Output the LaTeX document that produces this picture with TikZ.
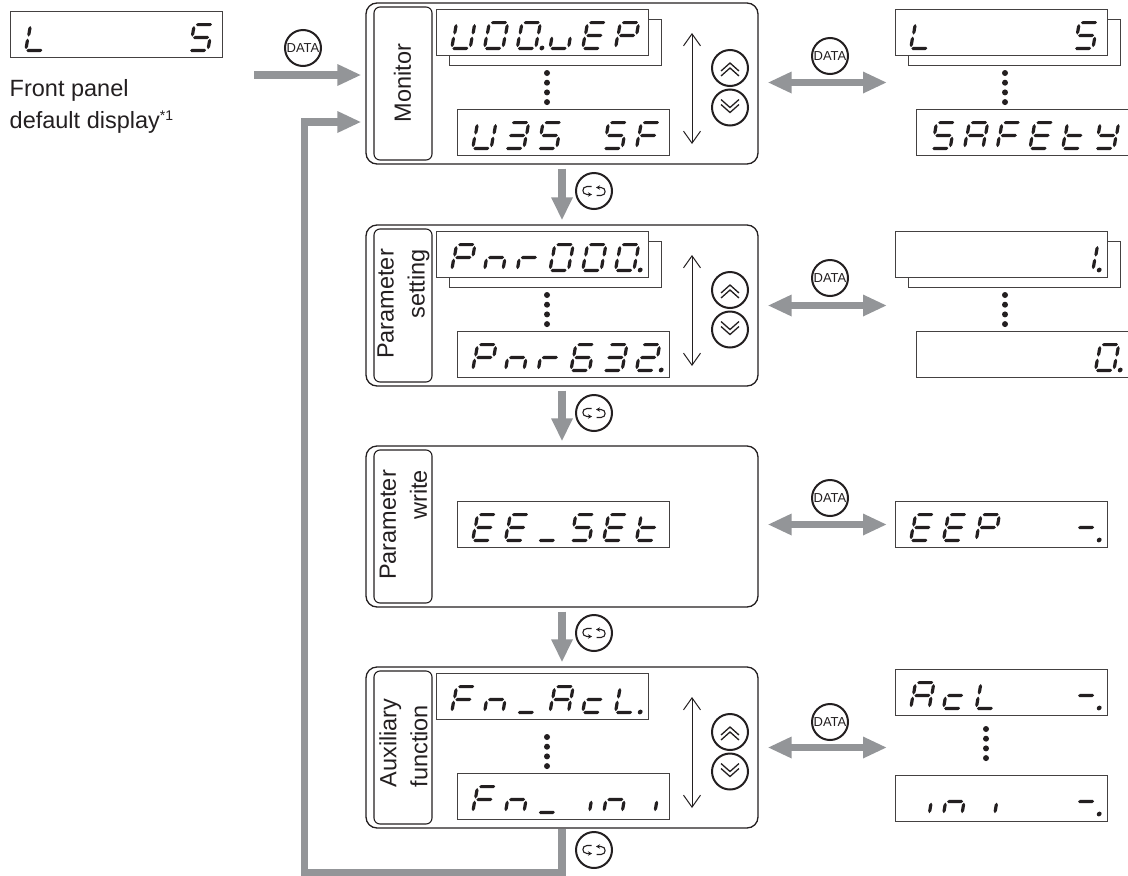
\documentclass[tikz,border=0pt]{standalone}
\usepackage{fontspec}
\setmainfont{Liberation Sans}
\usetikzlibrary{arrows.meta,calc}
\definecolor{segblack}{RGB}{35, 31, 32}
\definecolor{flowgray}{RGB}{147, 149, 152}

% one segment of a display digit, local units, y runs down
\newcommand{\hseg}[3]{\fill[segblack] (#1,#3) -- (#1+1.6,#3-1.6) -- (#2-1.6,#3-1.6) -- (#2,#3) -- (#2-1.6,#3+1.6) -- (#1+1.6,#3+1.6) -- cycle;}
\newcommand{\vseg}[3]{\fill[segblack] (#1,#2) -- (#1+1.6,#2+2.2) -- (#1+1.6,#3-2.2) -- (#1,#3) -- (#1-1.6,#3-2.2) -- (#1-1.6,#2+2.2) -- cycle;}
\newcommand{\sega}{\hseg{3.5}{19.5}{1.6}}
\newcommand{\segb}{\vseg{20.2}{3}{13.6}}
\newcommand{\segc}{\vseg{19.8}{15.6}{26.2}}
\newcommand{\segd}{\hseg{2}{18}{27.4}}
\newcommand{\sege}{\vseg{1.4}{15.6}{26.2}}
\newcommand{\segf}{\vseg{1.8}{3}{13.6}}
\newcommand{\segg}{\hseg{2.8}{18.8}{14.5}}
\newcommand{\segp}{\fill[segblack] (26,27) circle (2.4);}

% characters of the display
\newcommand{\defchar}[2]{\expandafter\def\csname chr#1\endcsname{#2}}
\defchar{*}{}
\defchar{0}{\sega\segb\segc\segd\sege\segf}
\defchar{0.}{\sega\segb\segc\segd\sege\segf\segp}
\defchar{1.}{\segb\segc\segp}
\defchar{2.}{\sega\segb\segg\sege\segd\segp}
\defchar{3}{\sega\segb\segg\segc\segd}
\defchar{5}{\sega\segf\segg\segc\segd}
\defchar{6}{\sega\segf\segg\sege\segd\segc}
\defchar{A}{\sega\segb\segc\sege\segf\segg}
\defchar{E}{\sega\segf\segg\sege\segd}
\defchar{F}{\sega\segf\segg\sege}
\defchar{L}{\segf\sege\segd}
\defchar{L.}{\segf\sege\segd\segp}
\defchar{P}{\sega\segb\segf\segg\sege}
\defchar{S}{\sega\segf\segg\segc\segd}
\defchar{U}{\segf\sege\segd\segc\segb}
\defchar{c}{\segg\sege\segd}
\defchar{i}{\segc}
\defchar{n}{\segg\sege\segc}
\defchar{r}{\segg\sege}
\defchar{t}{\segf\segg\sege\segd}
\defchar{u}{\sege\segd\segc}
\defchar{y}{\segf\segb\segg\segc\segd}
\defchar{_}{\segd}
\defchar{-}{\segg}
\defchar{-.}{\segg\segp}

% six characters into a display node
\newcommand{\segdisp}[2]{%
  \foreach \glyph [count=\k] in {#2} {%
    \begin{scope}[shift={($(#1.north west)+(19+32.75*\k-32.75,12)$)},xslant=.17]
      \csname chr\glyph\endcsname
    \end{scope}}}
% column of four dots
\newcommand{\dotcol}[2]{\foreach \d in {0,1,2,3} \fill[segblack] (#1,#2+9.7*\d) circle (3);}

\begin{document}
\begin{tikzpicture}[
    x=1pt, y=-1pt,
    panelbox/.style={rectangle, draw=segblack, line width=1.3pt, rounded corners=11pt,
                minimum width=392pt, minimum height=161pt, inner sep=0pt},
    labelbox/.style={rectangle, draw=segblack, line width=1.1pt, rounded corners=6pt,
                minimum width=58pt, minimum height=153pt, inner sep=0pt},
    sidetext/.style={rotate=90, inner sep=0pt, text=segblack,
                font=\fontsize{23.5}{31}\selectfont},
    dispbox/.style={rectangle, draw=segblack!85, fill=white, line width=1pt,
                minimum width=212pt, minimum height=46pt, inner sep=0pt, outer sep=0pt},
    keyround/.style={circle, draw=segblack, fill=white, line width=2pt, minimum size=36pt,
                inner sep=0pt, text=segblack, font=\fontsize{13}{13}\selectfont},
    flowdown/.style={line width=7.5pt, color=flowgray, shorten >=4pt, shorten <=4pt,
                -{Triangle[length=23pt,width=20pt]}},
    flowright/.style={line width=7.5pt, color=flowgray, shorten >=4pt,
                -{Triangle[length=24pt,width=20pt]}},
    flowboth/.style={line width=7.5pt, color=flowgray, shorten >=8pt, shorten <=9pt,
                {Triangle[length=24pt,width=20pt]}-{Triangle[length=24pt,width=20pt]}},
    thinboth/.style={line width=1pt, color=segblack,
                {Straight Barb[length=12pt,width=17pt]}-{Straight Barb[length=12pt,width=17pt]}},
    modehook/.style={segblack, line width=1.1pt, -{Stealth[length=4pt,width=4.5pt]}}
  ]
    \useasboundingbox (0,0) rectangle (1128,876);

    % default display
    \node[dispbox, anchor=north west] (frontdisp) at (10, 11) {};
    \segdisp{frontdisp}{L,*,*,*,*,S}
    \node[anchor=base west, inner sep=0pt, align=left, text=segblack,
          font=\fontsize{23.5}{32}\selectfont] (fronttext) at (9.5, 128.7)
      {Front panel\\default display\raisebox{8pt}{\fontsize{14}{14}\selectfont *1}};

    % panels
    \node[panelbox] (monitor) at (562, 83.5)  {};
    \node[panelbox] (paramset) at (562, 305.5) {};
    \node[panelbox] (paramwr) at (562, 526.5) {};
    \node[panelbox] (auxfn)   at (562, 747.5) {};

    \node[labelbox] (monlabel) at (403, 83.5)  {};
    \node[labelbox] (setlabel) at (403, 305.5) {};
    \node[labelbox] (wrlabel)  at (403, 526.5) {};
    \node[labelbox] (auxlabel) at (403, 747.5) {};

    \node[sidetext] (montext) at (402.5, 83) {Monitor};
    \node[sidetext, align=right] (settext) at (403.5, 304) {Parameter\\setting};
    \node[sidetext, align=right] (wrtext)  at (403.5, 525) {Parameter\\write};
    \node[sidetext, align=left]  (auxtext) at (403.5, 743) {Auxiliary\\function};

    % displays inside the panels
    \node[dispbox, anchor=north west] (monback) at (449, 19) {};
    \node[dispbox, anchor=north west] (montop)  at (436, 9) {};
    \node[dispbox, anchor=north west] (monlow)  at (457, 109) {};
    \segdisp{montop}{U,0,0.,u,E,P}
    \segdisp{monlow}{U,3,5,*,S,F}
    \dotcol{547}{73}

    \node[dispbox, anchor=north west] (setback) at (449, 241) {};
    \node[dispbox, anchor=north west] (settop)  at (436, 231) {};
    \node[dispbox, anchor=north west] (setlow)  at (457, 331) {};
    \segdisp{settop}{P,n,r,0,0,0.}
    \segdisp{setlow}{P,n,r,6,3,2.}
    \dotcol{547}{295}

    \node[dispbox, anchor=north west] (wrdisp) at (457, 501) {};
    \segdisp{wrdisp}{E,E,_,S,E,t}

    \node[dispbox, anchor=north west] (auxtop) at (436, 673) {};
    \node[dispbox, anchor=north west] (auxlow) at (457, 773) {};
    \segdisp{auxtop}{F,n,_,A,c,L.}
    \segdisp{auxlow}{F,n,_,i,n,i}
    \dotcol{547}{737}

    % displays on the right
    \node[dispbox, anchor=north west] (rmonback) at (908, 19) {};
    \node[dispbox, anchor=north west] (rmontop)  at (895, 9) {};
    \node[dispbox, anchor=north west] (rmonlow)  at (916, 109) {};
    \segdisp{rmontop}{L,*,*,*,*,S}
    \segdisp{rmonlow}{S,A,F,E,t,y}
    \dotcol{1005}{73}

    \node[dispbox, anchor=north west] (rsetback) at (908, 241) {};
    \node[dispbox, anchor=north west] (rsettop)  at (895, 231) {};
    \node[dispbox, anchor=north west] (rsetlow)  at (916, 331) {};
    \segdisp{rsettop}{*,*,*,*,*,1.}
    \segdisp{rsetlow}{*,*,*,*,*,0.}
    \dotcol{1005}{295}

    \node[dispbox, anchor=north west] (rwrdisp) at (895, 501) {};
    \segdisp{rwrdisp}{E,E,P,*,*,-.}

    \node[dispbox, anchor=north west] (rauxtop) at (895, 669) {};
    \node[dispbox, anchor=north west] (rauxlow) at (895, 775) {};
    \segdisp{rauxtop}{A,c,L,*,*,-.}
    \segdisp{rauxlow}{i,n,i,*,*,-.}
    \dotcol{986}{729}

    % up and down scrolling
    \coordinate (montip) at (692, 33);   \coordinate (monend) at (692, 144);
    \coordinate (settip) at (692, 255);  \coordinate (setend) at (692, 366);
    \coordinate (auxtip) at (692, 697);  \coordinate (auxend) at (692, 808);
    \draw[thinboth] (montip) -- (monend);
    \draw[thinboth] (settip) -- (setend);
    \draw[thinboth] (auxtip) -- (auxend);

    \foreach \name/\ky in {mon/68, set/290, aux/732} {
      \node[keyround] (\name up) at (730, \ky) {};
      \node[keyround] (\name dn) at (730, \ky+39.5) {};
      \draw[segblack, line width=1.3pt] (721,\ky+3) -- (730,\ky-5) -- (739,\ky+3)
                                        (721,\ky+8) -- (730,\ky) -- (739,\ky+8);
      \draw[segblack, line width=1.3pt] (721,\ky+36.5) -- (730,\ky+44.5) -- (739,\ky+36.5)
                                        (721,\ky+31.5) -- (730,\ky+39.5) -- (739,\ky+31.5);
    }

    % flow between the panels
    \draw[flowdown] (monitor) -- (paramset);
    \draw[flowdown] (paramset) -- (paramwr);
    \draw[flowdown] (paramwr) -- (auxfn);

    \coordinate (datain) at (254, 75);
    \draw[flowright] (datain) -- (datain -| monitor.west);
    \coordinate (retlow) at (304.5, 872.5);
    \coordinate (rettop) at (304.5, 122);
    \draw[flowright, shorten <=0pt] (auxfn.south) -- (auxfn.south |- retlow) -- (retlow) -- (rettop)
        -- (rettop -| monitor.west);

    \draw[flowboth] ([yshift=1pt]monitor.east) -- ([yshift=1pt]monitor.east -| rmontop.west);
    \draw[flowboth] (paramset.east) -- (paramset.east -| rsettop.west);
    \draw[flowboth] ([yshift=2pt]paramwr.east) -- ([yshift=2pt]paramwr.east -| rwrdisp.west);
    \draw[flowboth] (auxfn.east) -- (auxfn.east -| rauxtop.west);

    % DATA keys
    \node[keyround] (keyfront) at (303, 48)  {DATA};
    \node[keyround] (keymon)   at (830, 56)  {DATA};
    \node[keyround] (keyset)   at (830, 278) {DATA};
    \node[keyround] (keywr)    at (830, 498) {DATA};
    \node[keyround] (keyaux)   at (830, 722) {DATA};

    % mode keys
    \foreach \name/\ky in {a/191, b/413, c/633, d/850} {
      \node[keyround] (mode\name) at (594, \ky) {};
      \draw[modehook] (591.5,\ky-4.5) -- (587,\ky-4.5)
        .. controls (581.5,\ky-4.5) and (581.5,\ky+3.5) .. (587,\ky+3.5) -- (592,\ky+3.5);
      \draw[modehook] (596.5,\ky+4.5) -- (601,\ky+4.5)
        .. controls (606.5,\ky+4.5) and (606.5,\ky-3.5) .. (601,\ky-3.5) -- (596,\ky-3.5);
    }
\end{tikzpicture}
\end{document}
